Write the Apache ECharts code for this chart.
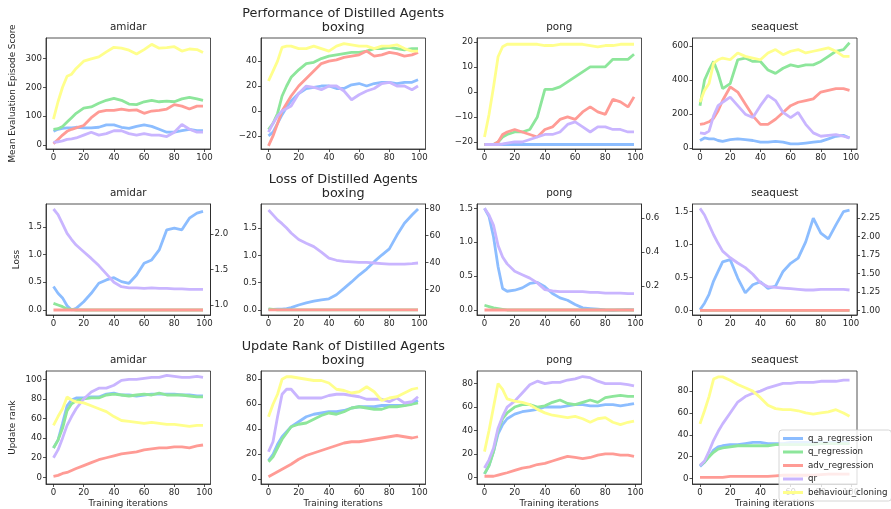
<!DOCTYPE html>
<html><head><meta charset="utf-8">
<script src="https://cdn.jsdelivr.net/npm/echarts@6/dist/echarts.min.js"></script>
<style>html,body{margin:0;padding:0;background:#fff}#c{width:891px;height:509px}</style>
</head><body><div id="c"></div>
<script>
// ---------------- DATA ----------------
const ITERS = [0,3,6,9,12,15,20,25,30,35,40,45,50,55,60,65,70,75,80,85,90,95,99];
const GAMES = ['amidar','boxing','pong','seaquest'];
const METHODS = ['q_a_regression','q_regression','adv_regression','qr','behaviour_cloning'];
const X_TICKS = [0,20,40,60,80,100];

// Performance (mean evaluation episode score)
const perfAmidarQA  = [48,55,58,60,60,62,60,60,62,70,70,62,58,65,70,65,55,45,45,50,55,50,50];
const perfAmidarQ   = [55,57,65,80,95,110,128,132,145,155,162,155,142,140,150,155,150,152,150,160,165,160,155];
const perfAmidarAdv = [5,20,35,48,55,60,68,95,115,120,120,125,120,122,110,118,120,125,140,135,125,135,135];
const perfAmidarQR  = [10,12,15,20,22,25,35,45,35,40,50,50,40,35,40,35,35,30,45,72,55,45,45];
const perfAmidarBC  = [90,150,200,238,245,265,290,298,305,322,338,335,328,315,330,348,335,337,340,325,332,330,320];

const perfBoxingQA  = [-20,-17,-10,-3,3,8,14,18,19,20,20,18,18,21,22,20,22,23,23,22,23,23,25];
const perfBoxingQ   = [-15,-10,-2,12,20,27,33,38,39,42,44,45,46,47,47,48,50,50,51,50,49,50,50];
const perfBoxingAdv = [-28,-20,-10,0,6,12,20,26,32,38,40,41,43,44,45,48,44,45,47,46,44,45,47];
const perfBoxingQR  = [-17,-10,-4,0,2,4,14,20,19,17,20,20,16,9,13,16,18,22,23,20,20,17,20];
const perfBoxingBC  = [24,32,40,51,52,52,50,50,52,50,48,52,54,53,52,52,50,52,52,53,50,48,48];

const perfPongQA  = [-21,-21,-21,-21,-21,-21,-21,-21,-21,-21,-21,-21,-21,-21,-21,-21,-21,-21,-21,-21,-21,-21,-21];
const perfPongQ   = [-21,-21,-21,-20,-18,-17,-16,-16,-15,-10,1,1,2,4,6,8,10,10,10,13,13,13,15];
const perfPongAdv = [-21,-21,-21,-20,-17,-16,-15,-16,-17,-18,-15,-14,-11,-10,-11,-8,-6,-8,-9,-3,-4,-6,-2];
const perfPongQR  = [-21,-21,-21,-21,-20.8,-20.5,-20,-20,-19,-18,-17,-17,-16,-13,-12,-14,-16,-14,-14,-15,-15,-16,-16];
const perfPongBC  = [-18,-9,2,14,18,19,19,19,19,19,18.5,18.5,19,19,19,19,18.5,18,18.5,18.5,19,19,19];

const perfSeaquestQA  = [45,60,55,55,45,40,50,55,50,45,35,35,40,35,25,25,30,35,40,55,70,75,60];
const perfSeaquestQ   = [250,400,460,510,440,350,380,520,530,510,510,460,440,470,490,480,490,490,510,540,570,580,620];
const perfSeaquestAdv = [140,145,155,175,220,280,360,330,260,190,140,140,170,210,250,270,280,290,330,340,350,350,340];
const perfSeaquestQR  = [90,85,100,190,250,270,300,250,200,180,250,310,280,210,180,210,140,90,70,75,80,70,60];
const perfSeaquestBC  = [270,340,380,500,520,530,520,560,540,530,520,560,580,550,570,580,560,570,580,590,570,540,540];

// Loss (q_a_regression on the right-hand axis)
const lossAmidarQA  = [1.26,1.165,1.10,0.99,0.93,0.953,1.047,1.165,1.306,1.353,1.384,1.329,1.306,1.423,1.587,1.634,1.775,2.057,2.08,2.057,2.221,2.292,2.315];
const lossAmidarQ   = [0.12,0.09,0.06,0.02,0.01,0,0,0,0,0,0,0,0,0,0,0,0,0,0,0,0,0,0];
const lossAmidarAdv = [0,0,0,0,0,0,0,0,0,0,0,0,0,0,0,0,0,0,0,0,0,0,0];
const lossAmidarQR  = [1.82,1.72,1.55,1.38,1.27,1.17,1.05,0.93,0.8,0.65,0.5,0.42,0.40,0.40,0.39,0.40,0.39,0.39,0.38,0.38,0.37,0.37,0.37];

const lossBoxingQA  = [5.2,5.2,5.3,5.4,5.8,6.5,8.4,10,11.2,12.2,13,16,20.7,25.5,30.6,35,40.5,45.4,50,60,69,75,79.5];
const lossBoxingQ   = [0.02,0.01,0,0,0,0,0,0,0,0,0,0,0,0,0,0,0,0,0,0,0,0,0];
const lossBoxingAdv = [0,0,0,0,0,0,0,0,0,0,0,0,0,0,0,0,0,0,0,0,0,0,0];
const lossBoxingQR  = [1.83,1.74,1.65,1.58,1.50,1.41,1.29,1.22,1.16,1.06,0.95,0.91,0.89,0.88,0.87,0.87,0.86,0.85,0.84,0.84,0.84,0.85,0.86];

const lossPongQA  = [0.659,0.61,0.49,0.314,0.186,0.17,0.176,0.19,0.216,0.222,0.196,0.157,0.131,0.117,0.092,0.072,0.068,0.064,0.06,0.058,0.06,0.062,0.06];
const lossPongQ   = [0.07,0.05,0.03,0.02,0.01,0,0,0,0,0,0,0,0,0,0,0,0,0,0,0,0,0,0];
const lossPongAdv = [0,0,0,0,0,0,0,0,0,0,0,0,0,0,0,0,0,0,0,0,0,0,0];
const lossPongQR  = [1.5,1.4,1.25,0.95,0.78,0.68,0.57,0.52,0.47,0.40,0.30,0.28,0.27,0.27,0.27,0.27,0.26,0.26,0.25,0.25,0.25,0.24,0.24];

const lossSeaquestQA  = [1.01,1.10,1.22,1.40,1.53,1.66,1.69,1.44,1.24,1.35,1.39,1.30,1.33,1.53,1.64,1.71,1.93,2.25,2.05,1.97,2.16,2.34,2.36];
const lossSeaquestQ   = [0,0,0,0,0,0,0,0,0,0,0,0,0,0,0,0,0,0,0,0,0,0,0];
const lossSeaquestAdv = [0,0,0,0,0,0,0,0,0,0,0,0,0,0,0,0,0,0,0,0,0,0,0];
const lossSeaquestQR  = [1.55,1.45,1.30,1.15,1.02,0.9,0.8,0.72,0.65,0.55,0.42,0.36,0.35,0.34,0.33,0.32,0.31,0.31,0.32,0.32,0.32,0.32,0.31];

// Update rank
const rankAmidarQA  = [30,38,55,73,79,81,81,82,82,85,86,84,84,83,84,85,85,85,85,84,84,83,83];
const rankAmidarQ   = [30,38,50,68,75,78,80,81,81,84,85,84,83,84,85,84,86,84,84,84,83,82,82];
const rankAmidarAdv = [1,2,4,5,7,9,12,15,18,20,22,24,25,26,28,29,30,30,31,31,30,32,33];
const rankAmidarQR  = [20,28,40,53,62,70,80,87,91,91,94,99,100,100,101,102,102,104,103,102,102,103,102];
const rankAmidarBC  = [53,62,70,82,79,77,76,73,70,67,62,58,57,56,55,56,55,54,54,53,52,53,53];

const rankBoxingQA  = [15,20,28,34,38,42,46,50,52,53,54,54,55,57,58,58,58,59,59,59,59,61,63];
const rankBoxingQ   = [14,18,25,32,37,42,44,45,48,51,53,52,54,57,58,57,56,56,58,58,59,60,61];
const rankBoxingAdv = [2,4,6,8,10,12,16,19,21,23,25,27,29,30,30,31,32,33,34,35,34,33,34];
const rankBoxingQR  = [22,30,50,68,72,72,65,65,65,65,67,68,68,67,66,64,64,64,62,65,61,62,66];
const rankBoxingBC  = [50,60,68,80,82,82,81,80,79,79,77,72,71,69,70,74,70,63,65,66,69,72,73];

const rankPongQA  = [3,10,22,37,45,50,54,56,57,58,60,60,60,61,62,62,61,61,62,62,61,62,63];
const rankPongQ   = [3,10,22,40,50,55,60,62,62,60,61,64,66,63,62,64,66,64,68,69,70,69,69];
const rankPongAdv = [1,1,1,2,3,4,6,8,9,11,12,14,16,18,17,16,17,19,20,20,19,19,18];
const rankPongQR  = [8,15,25,42,52,60,65,72,79,82,80,81,81,83,84,86,85,82,80,80,80,79,78];
const rankPongBC  = [22,40,60,80,75,67,65,64,62,58,55,53,52,51,52,50,47,50,51,47,45,47,48];

const rankSeaquestQA  = [11,15,20,26,29,30,31,31,32,33,33,32,32,32,33,33,33,33,33,33,33,33,33];
const rankSeaquestQ   = [12,15,20,24,27,28,29,30,30,30,30,30,31,31,31,31,31,31,32,32,32,32,32];
const rankSeaquestAdv = [1,1,1,1,1,1,2,2,2,2,2,2,2.5,3,3,3,3,3,3.5,4,4,4,4];
const rankSeaquestQR  = [12,16,25,35,43,50,60,70,75,78,80,83,85,87,87,88,88,88,89,89,89,90,90];
const rankSeaquestBC  = [50,62,75,91,93,93,90,86,83,80,74,67,64,63,63,62,60,59,60,61,63,60,57];

// Axis ranges and tick labels
const PERF_YLIM  = [[-13,370],[-30.5,58.5],[-22.8,21.5],[-5,648]];
const PERF_TICKS = [[0,100,200,300],[-20,0,20,40],[-20,-10,0,10,20],[0,200,400,600]];
const LOSS_YLIM  = [[-0.09,1.91],[-0.092,1.94],[-0.074,1.563],[-0.07,1.617]];
const LOSS_TICKS = [0,0.5,1.0,1.5];
const LOSS2_YLIM  = [[0.86,2.42],[1,83.2],[0.03,0.684],[0.94,2.443]];
const LOSS2_TICKS = [[1.0,1.5,2.0],[20,40,60,80],[0.2,0.4,0.6],[1.0,1.25,1.5,1.75,2.0,2.25]];
const LOSS2_DEC   = [1,0,1,2];
const RANK_YLIM  = [[-6.8,108.5],[-3.8,86.6],[-5.6,90.7],[-5,98.4]];
const RANK_TICKS = [[0,20,40,60,80,100],[0,20,40,60,80],[0,20,40,60,80],[0,20,40,60,80]];

const PERF = [
  [perfAmidarQA,perfAmidarQ,perfAmidarAdv,perfAmidarQR,perfAmidarBC],
  [perfBoxingQA,perfBoxingQ,perfBoxingAdv,perfBoxingQR,perfBoxingBC],
  [perfPongQA,perfPongQ,perfPongAdv,perfPongQR,perfPongBC],
  [perfSeaquestQA,perfSeaquestQ,perfSeaquestAdv,perfSeaquestQR,perfSeaquestBC]];
const LOSS = [
  [lossAmidarQA,lossAmidarQ,lossAmidarAdv,lossAmidarQR],
  [lossBoxingQA,lossBoxingQ,lossBoxingAdv,lossBoxingQR],
  [lossPongQA,lossPongQ,lossPongAdv,lossPongQR],
  [lossSeaquestQA,lossSeaquestQ,lossSeaquestAdv,lossSeaquestQR]];
const RANK = [
  [rankAmidarQA,rankAmidarQ,rankAmidarAdv,rankAmidarQR,rankAmidarBC],
  [rankBoxingQA,rankBoxingQ,rankBoxingAdv,rankBoxingQR,rankBoxingBC],
  [rankPongQA,rankPongQ,rankPongAdv,rankPongQR,rankPongBC],
  [rankSeaquestQA,rankSeaquestQ,rankSeaquestAdv,rankSeaquestQR,rankSeaquestBC]];

// ---------------- STYLE / LAYOUT ----------------
const COLORS = ['#8cbdff','#8de69b','#ff9b95','#c9b5ff','#ffff8c'];
const FONT = 'DejaVu Sans';
const INK = '#262626';
const COL_LEFT = [46,261,477,692.5], COL_W = 164.5;
const ROW_TOP = [38,204,371], ROW_H = [111,111,113];
const TICK_FS = 8.6;

function fmt(v, dec){ let s = Number(v).toFixed(dec); return s.replace('-', '\u2212'); }

const grids=[], xAxes=[], yAxes=[], series=[], titles=[], graphics=[];

function addAxisY(gi, lim, ticks, dec, pos){
  yAxes.push({type:'value', gridIndex:gi, position:pos, min:lim[0], max:lim[1],
    axisLine:{show:true, onZero:false, lineStyle:{color:INK,width:0.8}},
    axisTick:{show:true, inside:false, length:3, customValues:ticks, lineStyle:{color:INK,width:0.8}},
    axisLabel:{customValues:ticks, fontSize:TICK_FS, color:INK, fontFamily:FONT, margin:4, formatter:v=>fmt(v,dec)},
    splitLine:{show:false}});
  return yAxes.length-1;
}

for(let r=0;r<3;r++){
  for(let c=0;c<4;c++){
    const gi = grids.length;
    grids.push({left:COL_LEFT[c], top:ROW_TOP[r], width:COL_W, height:ROW_H[r], show:true,
      borderColor:INK, borderWidth:0.8, backgroundColor:'rgba(0,0,0,0)', containLabel:false, outerBoundsMode:'none'});
    const xa = {type:'value', gridIndex:gi, min:-4.95, max:103.95,
      axisLine:{show:true, onZero:false, lineStyle:{color:INK,width:0.8}},
      axisTick:{show:true, length:3, customValues:X_TICKS, lineStyle:{color:INK,width:0.8}},
      axisLabel:{customValues:X_TICKS, fontSize:TICK_FS, color:INK, fontFamily:FONT, margin:4},
      splitLine:{show:false}};
    if(r===2){ xa.name='Training iterations'; xa.nameLocation='middle'; xa.nameGap=15;
      xa.nameTextStyle={fontSize:8.8, color:INK, fontFamily:FONT}; }
    xAxes.push(xa);
    let yl, yr=null, data;
    if(r===0){ yl = addAxisY(gi, PERF_YLIM[c], PERF_TICKS[c], 0, 'left'); data = PERF[c]; }
    else if(r===1){ yl = addAxisY(gi, LOSS_YLIM[c], LOSS_TICKS, 1, 'left');
      yr = addAxisY(gi, LOSS2_YLIM[c], LOSS2_TICKS[c], LOSS2_DEC[c], 'right'); data = LOSS[c]; }
    else { yl = addAxisY(gi, RANK_YLIM[c], RANK_TICKS[c], 0, 'left'); data = RANK[c]; }
    data.forEach((arr,k)=>{
      series.push({type:'line', name:METHODS[k], xAxisIndex:gi,
        yAxisIndex:(r===1 && k===0)? yr : yl,
        data: ITERS.map((x,i)=>[x,arr[i]]), showSymbol:false, symbol:'none',
        lineStyle:{width:2.8, color:COLORS[k]}, itemStyle:{color:COLORS[k]},
        emphasis:{disabled:true}, animation:false});
    });
    // titles
    const cx = COL_LEFT[c] + COL_W/2;
    if(c===1){
      const head = ['Performance of Distilled Agents','Loss of Distilled Agents','Update Rank of Distilled Agents'][r];
      titles.push({text:head+'\n'+GAMES[c], left:cx, top:ROW_TOP[r]-32, textAlign:'center', padding:0,
        textStyle:{fontSize:12.8, fontWeight:'normal', color:INK, fontFamily:FONT, lineHeight:14.5}});
    } else {
      titles.push({text:GAMES[c], left:cx, top:ROW_TOP[r]-16, textAlign:'center', padding:0,
        textStyle:{fontSize:10.4, fontWeight:'normal', color:INK, fontFamily:FONT}});
    }
  }
}

const YNAMES = ['Mean Evaluation Episode Score','Loss','Update rank'];
const YNAME_X = [13,17,13];
for(let r=0;r<3;r++){
  graphics.push({type:'text', x:YNAME_X[r], y:ROW_TOP[r]+ROW_H[r]/2, rotation:Math.PI/2,
    style:{text:YNAMES[r], textAlign:'center', textVerticalAlign:'middle', fontSize:8.8, fill:INK, fontFamily:FONT}});
}

const chart = echarts.init(document.getElementById('c'), null, {renderer:'canvas'});
chart.setOption({
  animation:false,
  textStyle:{fontFamily:FONT},
  title:titles, grid:grids, xAxis:xAxes, yAxis:yAxes, series:series, graphic:graphics,
  legend:{data:METHODS, orient:'vertical', left:779, top:430, icon:'rect', itemWidth:20, itemHeight:3,
    itemGap:2.5, padding:[3,4,3,4], backgroundColor:'rgba(255,255,255,0.8)', borderColor:'#cccccc',
    borderWidth:0.8, borderRadius:3, textStyle:{fontSize:8.7, color:INK, fontFamily:FONT, lineHeight:11}}
});
</script></body></html>
